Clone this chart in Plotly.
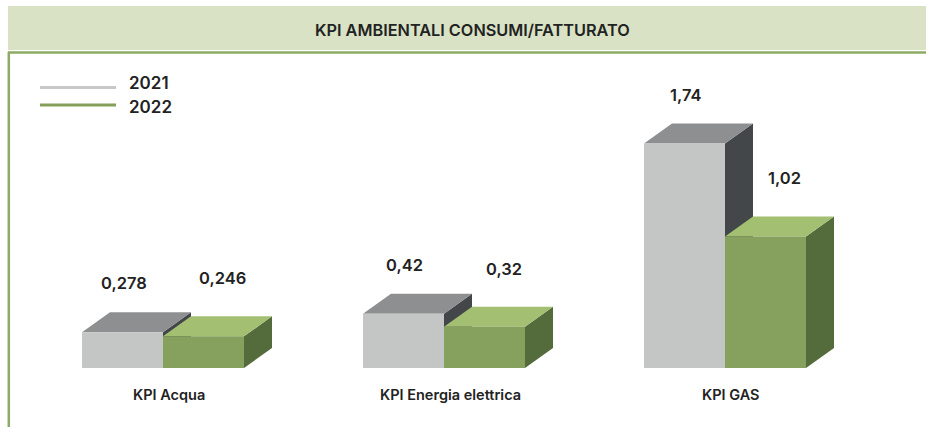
import plotly.graph_objects as go

# ---- data ----
categories = ["KPI Acqua", "KPI Energia elettrica", "KPI GAS"]
series_names = ["2021", "2022"]
values_2021 = [0.278, 0.42, 1.74]
values_2022 = [0.246, 0.32, 1.02]
labels_2021 = ["0,278", "0,42", "1,74"]
labels_2022 = ["0,246", "0,32", "1,02"]
title_text = "KPI AMBIENTALI CONSUMI/FATTURATO"

# ---- layout constants (pixels) ----
W, H = 926, 427
BASE_PX = 368          # baseline pixel row
SCALE = 129.0          # pixels per unit
GROUP0 = 163           # centre of first group (between the two front faces)
GROUP_STEP = 281
BAR_W = 81
DX_PX, DY_PX = 28, 20  # 3D depth offset
DY = DY_PX / SCALE

gray = dict(front="#c4c6c5", top="#8e8f91", side="#44474a")
green = dict(front="#86a05e", top="#a3bf72", side="#546c3c")
TXT = "#222222"

fig = go.Figure()


def add_poly(xs, ys, color):
    fig.add_trace(go.Scatter(
        x=xs + [xs[0]], y=ys + [ys[0]], mode="lines", fill="toself",
        fillcolor=color, line=dict(width=0, color=color),
        hoverinfo="skip", showlegend=False))


def add_box(xl, v, pal):
    xr = xl + BAR_W
    add_poly([xr, xr + DX_PX, xr + DX_PX, xr], [0, DY, v + DY, v], pal["side"])
    add_poly([xl, xl + DX_PX, xr + DX_PX, xr], [v, v + DY, v + DY, v], pal["top"])
    add_poly([xl, xr, xr, xl], [0, 0, v, v], pal["front"])


annotations = []
for i, cat in enumerate(categories):
    gc = GROUP0 + i * GROUP_STEP
    v1, v2 = values_2021[i], values_2022[i]
    add_box(gc - BAR_W, v1, gray)
    add_box(gc, v2, green)
    annotations.append(dict(
        x=gc - BAR_W / 2 + 1, y=v1 + 49 / SCALE, xref="x", yref="y",
        xanchor="center", yanchor="middle",
        text=labels_2021[i], showarrow=False,
        font=dict(family="Inter", size=16.5, color=TXT, weight=600)))
    annotations.append(dict(
        x=gc + BAR_W / 2 + 19, y=v2 + 58 / SCALE, xref="x", yref="y",
        xanchor="center", yanchor="middle",
        text=labels_2022[i], showarrow=False,
        font=dict(family="Inter", size=16.5, color=TXT, weight=600)))
    annotations.append(dict(
        x=gc + 6, y=-(394 - BASE_PX) / SCALE, xref="x", yref="y",
        xanchor="center", yanchor="middle",
        text=cat, showarrow=False,
        font=dict(family="Inter", size=14.5, color=TXT, weight=600)))


def px_x(p):
    return p / W


def px_y(p):
    return 1 - p / H


FRAME = "#8dab66"
shapes = [
    dict(type="rect", xref="paper", yref="paper",
         x0=px_x(8), x1=1, y0=px_y(50), y1=px_y(6),
         fillcolor="#d9e2c5", line=dict(width=0), layer="below"),
    dict(type="line", xref="paper", yref="paper",
         x0=px_x(8), x1=1, y0=px_y(52.5), y1=px_y(52.5),
         line=dict(color=FRAME, width=2.5)),
    dict(type="line", xref="paper", yref="paper",
         x0=px_x(8.8), x1=px_x(8.8), y0=px_y(52), y1=0,
         line=dict(color=FRAME, width=2.5)),
    dict(type="line", xref="paper", yref="paper",
         x0=px_x(40), x1=px_x(116), y0=px_y(87.5), y1=px_y(87.5),
         line=dict(color="#c8c8c8", width=3)),
    dict(type="line", xref="paper", yref="paper",
         x0=px_x(40), x1=px_x(116), y0=px_y(105), y1=px_y(105),
         line=dict(color="#86a05c", width=3)),
]

annotations += [
    dict(x=px_x(473), y=px_y(30), xref="paper", yref="paper",
         xanchor="center", yanchor="middle",
         text=title_text, showarrow=False,
         font=dict(family="Inter", size=16.3, color=TXT, weight=600)),
    dict(x=px_x(127), y=px_y(83), xref="paper", yref="paper",
         xanchor="left", yanchor="middle",
         text=series_names[0], showarrow=False,
         font=dict(family="Inter", size=17, color=TXT, weight=600)),
    dict(x=px_x(127), y=px_y(107), xref="paper", yref="paper",
         xanchor="left", yanchor="middle",
         text=series_names[1], showarrow=False,
         font=dict(family="Inter", size=17, color=TXT, weight=600)),
]

fig.update_layout(
    width=W, height=H,
    margin=dict(l=0, r=0, t=0, b=0),
    paper_bgcolor="white", plot_bgcolor="white",
    showlegend=False,
    xaxis=dict(range=[0, W], visible=False, fixedrange=True),
    yaxis=dict(range=[-(H - BASE_PX) / SCALE, BASE_PX / SCALE],
               visible=False, fixedrange=True),
    shapes=shapes, annotations=annotations,
)

fig.write_html(
    "out.html",
    config={"displayModeBar": False},
    post_script="document.body.style.margin='0';document.body.style.overflow='hidden';",
)
